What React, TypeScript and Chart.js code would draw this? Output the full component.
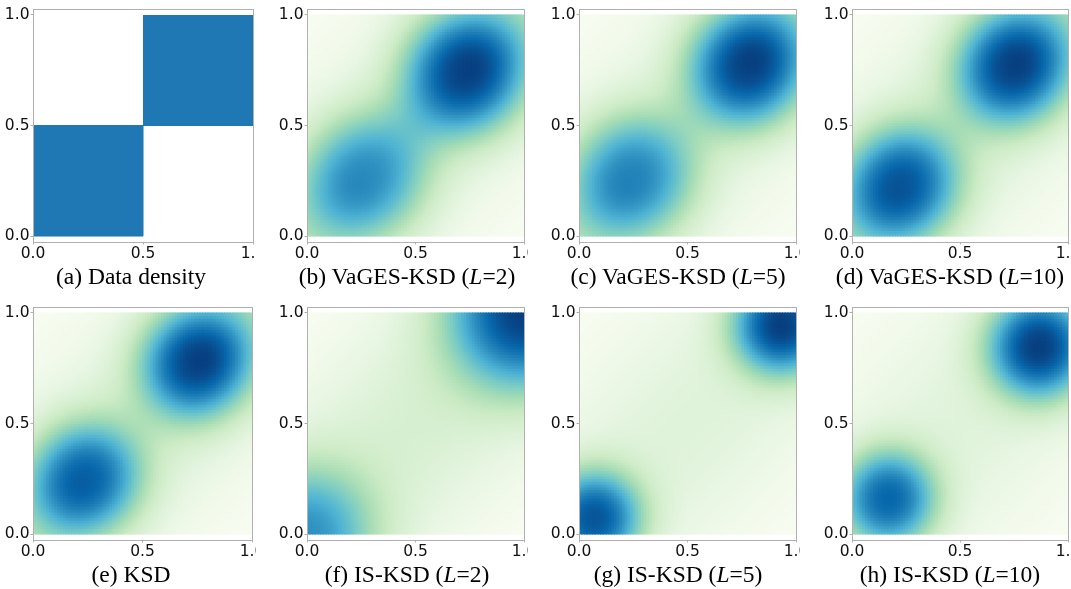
import React, { useEffect, useRef } from 'react';
import { Chart, registerables } from 'chart.js';

Chart.register(...registerables);

// ---------- axis ticks ----------
const tickValues = [0, 0.5, 1.0];
const tickLabels = ['0.0', '0.5', '1.0'];
const yRange = [-0.027, 1.027];
const xRange = [0, 1];

// ---------- captions ----------
const captionTags = ['(a)', '(b)', '(c)', '(d)', '(e)', '(f)', '(g)', '(h)'];
const captionMethods = ['Data density', 'VaGES-KSD', 'VaGES-KSD', 'VaGES-KSD', 'KSD', 'IS-KSD', 'IS-KSD', 'IS-KSD'];
const captionL = ['', '2', '5', '10', '', '2', '5', '10'];

// ---------- panel (a): data support (two uniform squares) ----------
const lowerSquareX = [0, 0.5, 0.5, 0, 0];
const lowerSquareY = [0, 0, 0.5, 0.5, 0];
const upperSquareX = [0.5, 1, 1, 0.5, 0.5];
const upperSquareY = [0.5, 0.5, 1, 1, 0.5];

// ---------- panels (b)-(h): estimated densities ----------
// upper-right mode
const upperModeX = [0.73, 0.78, 0.75, 0.75, 1.02, 0.94, 0.87];
const upperModeY = [0.74, 0.77, 0.77, 0.78, 1.02, 0.95, 0.85];
const upperAlong = [0.30, 0.29, 0.28, 0.27, 0.38, 0.24, 0.25];
const upperAcross = [0.29, 0.28, 0.27, 0.26, 0.38, 0.24, 0.25];
const upperWeight = [1.0, 1.0, 1.0, 1.0, 1.0, 1.0, 1.0];
// lower-left mode
const lowerModeX = [0.27, 0.25, 0.23, 0.24, -0.02, 0.07, 0.17];
const lowerModeY = [0.27, 0.27, 0.23, 0.25, -0.02, 0.07, 0.16];
const lowerAlong = [0.31, 0.30, 0.28, 0.27, 0.34, 0.23, 0.23];
const lowerAcross = [0.29, 0.29, 0.27, 0.26, 0.34, 0.23, 0.23];
const lowerWeight = [0.7, 0.74, 0.92, 0.88, 0.7, 0.92, 0.86];
const modeSharpness = [1.25, 1.25, 1.25, 1.25, 1.2, 1.2, 1.2];
// tails towards the (0,0) and (1,1) corners
const cornerTailWeight = [0.18, 0.18, 0.16, 0.16, 0, 0, 0];
const cornerTailAlong = [0.42, 0.42, 0.42, 0.42, 0.42, 0.42, 0.42];
const cornerTailAcross = [0.28, 0.28, 0.28, 0.28, 0.28, 0.28, 0.28];
// broad diagonal background band
const ridgeWeight = [0.2, 0.2, 0.25, 0.24, 0.22, 0.16, 0.15];
const ridgeAlong = [1.27, 1.27, 1.27, 1.27, 1.27, 1.27, 1.27];
const ridgeAcross = [0.42, 0.42, 0.4, 0.4, 0.45, 0.45, 0.45];

// GnBu colour map
const gnbu = ['#f7fcf0', '#e0f3db', '#ccebc5', '#a8ddb5', '#7bccc4', '#4eb3d3', '#2b8cbe', '#0868ac', '#084081'];

// ---------- layout ----------
const GRID_N = 80;
const FRAME_W = 220;
const FRAME_H = 233;
const AXIS_W = 33;
const AXIS_H = 26;
const PAD_TOP = 9;
const colLeft = [33, 307, 579, 852];
const colExtra = [3, 1, 1, 0];
const rowTop = [9, 307];
const captionCenter = [131, 407, 678, 950];
const captionTop = [265, 563];

const TICK_FONT = { family: '"DejaVu Sans", sans-serif', size: 15.5 };
const TICK_COLOR = '#111111';
const FRAME_COLOR = '#b0b0b0';

function hexToRgb(h: string) {
  return [parseInt(h.slice(1, 3), 16), parseInt(h.slice(3, 5), 16), parseInt(h.slice(5, 7), 16)];
}
const gnbuRgb = gnbu.map(hexToRgb);
function cmap(t: number) {
  const v = Math.max(0, Math.min(1, t)) * (gnbuRgb.length - 1);
  const i = Math.min(gnbuRgb.length - 2, Math.floor(v));
  const f = v - i;
  const a = gnbuRgb[i], b = gnbuRgb[i + 1];
  const c = [0, 1, 2].map((k) => Math.round(a[k] + (b[k] - a[k]) * f));
  return `rgb(${c[0]},${c[1]},${c[2]})`;
}

// diagonal-oriented bump: along = scale along x=y, across = scale perpendicular
function bump(x: number, y: number, cx: number, cy: number, along: number, across: number, w: number, beta: number) {
  const dx = x - cx, dy = y - cy;
  const du = (dx + dy) / Math.SQRT2;
  const dv = (dy - dx) / Math.SQRT2;
  const q = (du * du) / (along * along) + (dv * dv) / (across * across);
  return w * Math.exp(-Math.pow(q, beta));
}

function densityCells(p: number) {
  const pts: { x: number; y: number }[] = [];
  const vals: number[] = [];
  for (let i = 0; i < GRID_N; i++) {
    for (let j = 0; j < GRID_N; j++) {
      const x = (i + 0.5) / GRID_N;
      const y = (j + 0.5) / GRID_N;
      const v =
        bump(x, y, upperModeX[p], upperModeY[p], upperAlong[p], upperAcross[p], upperWeight[p], modeSharpness[p]) +
        bump(x, y, lowerModeX[p], lowerModeY[p], lowerAlong[p], lowerAcross[p], lowerWeight[p], modeSharpness[p]) +
        bump(x, y, 0, 0, cornerTailAlong[p], cornerTailAcross[p], cornerTailWeight[p], 1) +
        bump(x, y, 1, 1, cornerTailAlong[p], cornerTailAcross[p], cornerTailWeight[p], 1) +
        bump(x, y, 0.5, 0.5, ridgeAlong[p], ridgeAcross[p], ridgeWeight[p], 1);
      pts.push({ x, y });
      vals.push(v);
    }
  }
  let mn = Infinity, mx = -Infinity;
  for (const v of vals) { if (v < mn) mn = v; if (v > mx) mx = v; }
  const colors = vals.map((v) => cmap((v - mn) / (mx - mn)));
  return { pts, colors };
}

function makeScales() {
  const setTicks = (s: any) => { s.ticks = tickValues.map((v) => ({ value: v })); };
  const label = (v: any) => tickLabels[tickValues.indexOf(Number(v))] ?? '';
  return {
    x: {
      type: 'linear', position: 'bottom', min: xRange[0], max: xRange[1],
      afterBuildTicks: setTicks,
      afterFit: (s: any) => { s.height = AXIS_H; s.paddingLeft = 0; s.paddingRight = 0; },
      ticks: { callback: label, font: TICK_FONT, color: TICK_COLOR, padding: 0, maxRotation: 0, autoSkip: false },
      grid: { drawOnChartArea: false, drawTicks: true, tickLength: 2.5, color: FRAME_COLOR, z: 1 },
      border: { display: true, color: FRAME_COLOR, width: 1, z: 1 },
    },
    y: {
      type: 'linear', position: 'left', min: yRange[0], max: yRange[1],
      afterBuildTicks: setTicks,
      afterFit: (s: any) => { s.width = AXIS_W; s.paddingTop = 0; s.paddingBottom = 0; },
      ticks: { callback: label, font: TICK_FONT, color: TICK_COLOR, padding: 1, autoSkip: false },
      grid: { drawOnChartArea: false, drawTicks: true, tickLength: 2.5, color: FRAME_COLOR, z: 1 },
      border: { display: true, color: FRAME_COLOR, width: 1, z: 1 },
    },
    x2: {
      type: 'linear', position: 'top', min: xRange[0], max: xRange[1],
      afterFit: (s: any) => { s.height = 0; s.paddingLeft = 0; s.paddingRight = 0; },
      ticks: { display: false },
      grid: { drawOnChartArea: false, drawTicks: false, display: true, color: FRAME_COLOR, z: 1 },
      border: { display: true, color: FRAME_COLOR, width: 1, z: 1 },
    },
    y2: {
      type: 'linear', position: 'right', min: yRange[0], max: yRange[1],
      afterFit: (s: any) => { s.width = 0; s.paddingTop = 0; s.paddingBottom = 0; },
      ticks: { display: false },
      grid: { drawOnChartArea: false, drawTicks: false, display: true, color: FRAME_COLOR, z: 1 },
      border: { display: true, color: FRAME_COLOR, width: 1, z: 1 },
    },
  };
}

function Panel({ index }: { index: number }) {
  const ref = useRef<HTMLCanvasElement | null>(null);
  const col = index % 4;
  const row = Math.floor(index / 4);
  const extra = colExtra[col];
  const W = AXIS_W + FRAME_W + extra;
  const H = PAD_TOP + FRAME_H + AXIS_H;
  const left = colLeft[col] - AXIS_W;
  const top = rowTop[row] - PAD_TOP;

  useEffect(() => {
    if (!ref.current) return;
    let datasets: any[];
    if (index === 0) {
      const sq = (xs: number[], ys: number[]) => xs.map((x, i) => ({ x, y: ys[i] }));
      datasets = [
        { data: sq(lowerSquareX, lowerSquareY), showLine: true, fill: 'shape', backgroundColor: '#1f77b4', borderColor: '#1f77b4', borderWidth: 1, pointRadius: 0, tension: 0, xAxisID: 'x', yAxisID: 'y' },
        { data: sq(upperSquareX, upperSquareY), showLine: true, fill: 'shape', backgroundColor: '#1f77b4', borderColor: '#1f77b4', borderWidth: 1, pointRadius: 0, tension: 0, xAxisID: 'x', yAxisID: 'y' },
      ];
    } else {
      const { pts, colors } = densityCells(index - 1);
      const cellPx = FRAME_W / GRID_N;
      datasets = [{
        data: pts, pointStyle: 'rect', pointRadius: (cellPx + 1) / Math.SQRT2,
        pointBorderWidth: 0, pointBackgroundColor: colors, showLine: false, clip: 0,
        xAxisID: 'x', yAxisID: 'y',
      }];
    }
    const chart = new Chart(ref.current, {
      type: 'scatter',
      data: { datasets },
      options: {
        responsive: false, animation: false, events: [], parsing: false, normalized: true,
        layout: { padding: { top: PAD_TOP, right: extra, left: 0, bottom: 0 } },
        plugins: { legend: { display: false }, tooltip: { enabled: false } },
        scales: makeScales() as any,
      },
    } as any);
    return () => chart.destroy();
  }, []);

  return (
    <canvas ref={ref} width={W} height={H}
      style={{ position: 'absolute', left, top, width: W, height: H }} />
  );
}

function Caption({ index }: { index: number }) {
  const col = index % 4;
  const row = Math.floor(index / 4);
  return (
    <div style={{
      position: 'absolute', left: captionCenter[col] - 150, width: 300, top: captionTop[row],
      textAlign: 'center', fontFamily: '"Liberation Serif", "Times New Roman", serif',
      fontSize: '23.5px', lineHeight: '23.5px', color: '#000', whiteSpace: 'nowrap',
    }}>
      {captionTags[index]} {captionMethods[index]}
      {captionL[index] ? <> (<i>L</i>={captionL[index]})</> : null}
    </div>
  );
}

export default function App() {
  useEffect(() => { document.body.style.margin = '0'; }, []);
  const idx = [0, 1, 2, 3, 4, 5, 6, 7];
  return (
    <div style={{ position: 'relative', width: 1071, height: 589, overflow: 'hidden', background: '#fff' }}>
      {idx.map((i) => <Panel key={'p' + i} index={i} />)}
      {idx.map((i) => <Caption key={'c' + i} index={i} />)}
    </div>
  );
}
